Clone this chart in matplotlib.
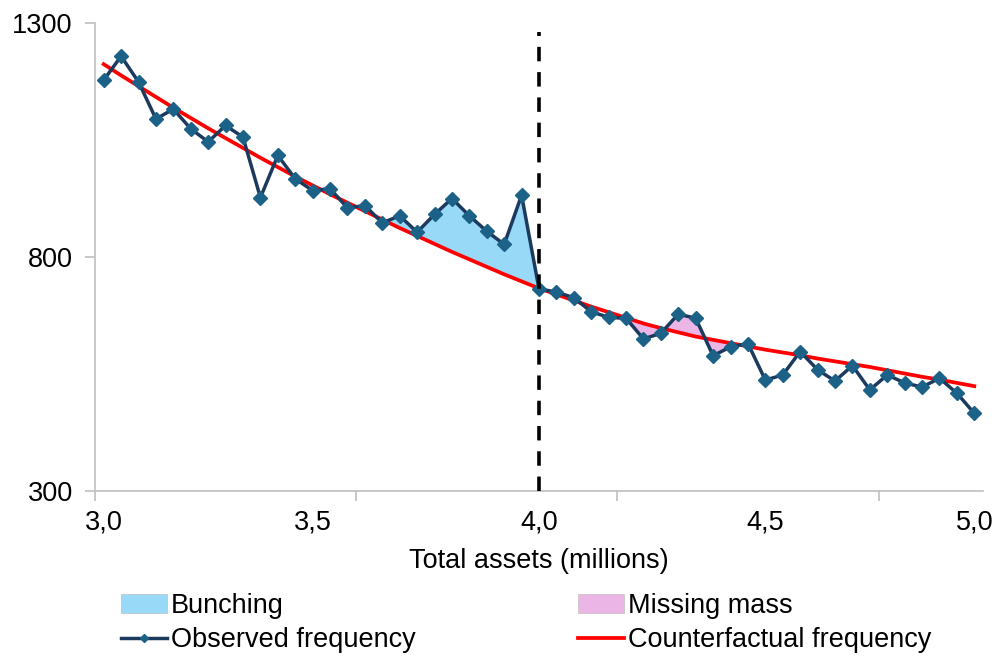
import numpy as np
import matplotlib
matplotlib.use("Agg")
import matplotlib.pyplot as plt
from matplotlib.patches import Patch
from matplotlib.lines import Line2D

plt.rcParams['font.family'] = ['Liberation Sans', 'DejaVu Sans']

# Observed frequency per bin (51 bins from 3.0 to 5.0 million)
observed = [1178, 1229, 1174, 1095, 1116, 1074, 1046, 1081, 1056, 927,
            1017, 967, 942, 946, 905, 910, 873, 888, 853, 891,
            925, 888, 855, 827, 932, 732, 725, 713, 683, 671,
            669, 625, 637, 678, 669, 589, 608, 615, 537, 548,
            598, 559, 535, 568, 516, 548, 531, 522, 541, 509,
            466]

# Counterfactual (fitted) frequency
counterfactual = [1212, 1188, 1165, 1142, 1119, 1097, 1075, 1054, 1033, 1012,
                  992, 972, 953, 934, 916, 898, 880, 862, 845, 828,
                  811, 795, 779, 763, 748, 733, 720, 707, 694, 682,
                  670, 658, 648, 639, 630, 623, 616, 609, 602, 596,
                  590, 583, 577, 571, 565, 558, 551, 544, 538, 531,
                  524]

tick_labels = ["3,0", "3,5", "4,0", "4,5", "5,0"]
tick_label_bins = [0, 12, 25, 38, 50]
threshold_bin = 25
bunching_bins = (15, 25)
missing_bins = (30, 37)

x = np.arange(len(observed))
obs = np.array(observed)
cf = np.array(counterfactual)

fig = plt.figure(figsize=(9.95, 6.56), dpi=100)
ax = fig.add_axes([95/995, 1 - 491/656, 888/995, 468/656])

# shaded areas
m = (x >= bunching_bins[0]) & (x <= bunching_bins[1])
ax.fill_between(x[m], cf[m], obs[m], color="#97D9F6", lw=0)
m = (x >= missing_bins[0]) & (x <= missing_bins[1])
ax.fill_between(x[m], cf[m], obs[m], color="#EBB5E6", lw=0)

ax.plot(x, cf, color="#FF0000", lw=2.7, zorder=3)
ax.plot(x, obs, color="#1C3A5E", lw=2.5, marker="D", ms=7.5,
        mfc="#1B6188", mec="#1B6188", zorder=4)

ax.axvline(threshold_bin, ymin=0, ymax=0.98, color="black", lw=2.6,
           ls=(0, (4, 3)), zorder=5)

ax.set_xlim(-0.5, len(observed) - 0.5)
ax.set_ylim(300, 1300)

for s in ["top", "right"]:
    ax.spines[s].set_visible(False)
for s in ["left", "bottom"]:
    ax.spines[s].set_color("#BFBFBF")
    ax.spines[s].set_linewidth(1.2)

ax.set_yticks([300, 800, 1300])
ax.tick_params(axis="y", direction="out", length=7, width=1.2, color="#BFBFBF",
               labelsize=19.5, pad=9)

ax.set_xticks([-0.5, 14.5, 29.5, 44.5])
ax.set_xticklabels([])
ax.tick_params(axis="x", which="major", direction="out", length=7, width=1.2,
               color="#BFBFBF")
ax.set_xticks(tick_label_bins, minor=True)
ax.set_xticklabels(tick_labels, minor=True)
ax.tick_params(axis="x", which="minor", length=0, labelsize=19.5, pad=13)

ax.set_xlabel("Total assets (millions)", fontsize=19.5, labelpad=9)

h1 = [Patch(facecolor="#97D9F6", edgecolor="#BFBFBF", lw=0.5),
      Line2D([], [], color="#1C3A5E", lw=2.5, marker="D", ms=4.5,
             mfc="#1B6188", mec="#1B6188")]
h2 = [Patch(facecolor="#EBB5E6", edgecolor="#BFBFBF", lw=0.5),
      Line2D([], [], color="#FF0000", lw=2.7)]
kw = dict(frameon=False, fontsize=19.5, handlelength=1.7, handletextpad=0.15,
          labelspacing=0.3, borderaxespad=0, borderpad=0, loc="upper left")
leg1 = fig.legend(h1, ["Bunching", "Observed frequency"],
                  bbox_to_anchor=(121/995, 1 - 593/656), **kw)
leg2 = fig.legend(h2, ["Missing mass", "Counterfactual frequency"],
                  bbox_to_anchor=(578/995, 1 - 593/656), **kw)

fig.savefig("out.png", dpi=100)
